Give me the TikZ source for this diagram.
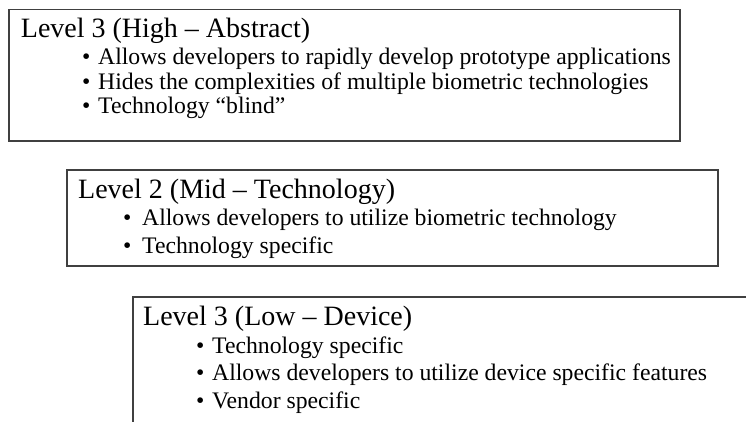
\documentclass[tikz,border=0pt]{standalone}
\usepackage{fontspec}
\setmainfont{Liberation Serif}
\tikzset{
  panel/.style={draw=black!75, line width=1.3pt},
  head/.style={anchor=base west, inner sep=0pt, font=\fontsize{28}{34}\selectfont},
  item/.style={anchor=base west, inner sep=0pt, font=\fontsize{23.7}{28}\selectfont},
  dotmark/.style={anchor=base west, inner sep=0pt, font=\fontsize{23.7}{28}\selectfont},
}
\begin{document}
\begin{tikzpicture}[x=1pt,y=-1pt]
\useasboundingbox (0,0) rectangle (746,422);
\clip (0,0) rectangle (746,422);
\fill[white] (0,0) rectangle (746,422);

% high level
\draw[panel] (9,9.7) rectangle (680,141);
\node[head] (h1) at (20.7,38) {Level 3 (High – Abstract)};
\node[dotmark] (h1d1) at (82,65) {•};
\node[item] (h1i1) at (98,65) {Allows developers to rapidly develop prototype applications};
\node[dotmark] (h1d2) at (82,90) {•};
\node[item] (h1i2) at (98,90) {Hides the complexities of multiple biometric technologies};
\node[dotmark] (h1d3) at (82,114) {•};
\node[item] (h1i3) at (98,114) {Technology “blind”};

% mid level
\draw[panel] (67,170) rectangle (718,266);
\node[head] (h2) at (78,198) {Level 2 (Mid – Technology)};
\node[dotmark] (h2d1) at (123,225) {•};
\node[item] (h2i1) at (142,225) {Allows developers to utilize biometric technology};
\node[dotmark] (h2d2) at (123,253) {•};
\node[item] (h2i2) at (142,253) {Technology specific};

% low level
\draw[panel] (133,297) rectangle (770,450);
\node[head] (h3) at (143,325) {Level 3 (Low – Device)};
\node[dotmark] (h3d1) at (196,353) {•};
\node[item] (h3i1) at (212,353) {Technology specific};
\node[dotmark] (h3d2) at (196,380) {•};
\node[item] (h3i2) at (212,380) {Allows developers to utilize device specific features};
\node[dotmark] (h3d3) at (196,408) {•};
\node[item] (h3i3) at (212,408) {Vendor specific};
\end{tikzpicture}
\end{document}
